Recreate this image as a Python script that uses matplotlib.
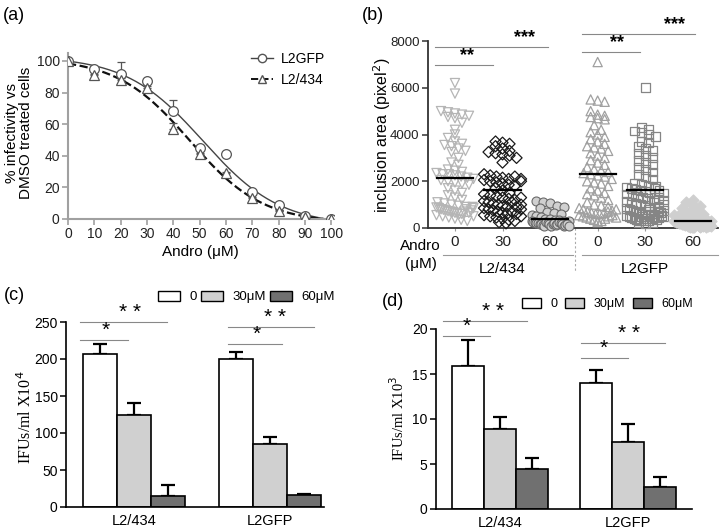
import numpy as np
import matplotlib
matplotlib.use("Agg")
import matplotlib.pyplot as plt
from matplotlib.patches import Patch
from matplotlib.lines import Line2D

plt.rcParams['font.family'] = ['Liberation Sans', 'DejaVu Sans']

W, H = 720, 532
def fx(px): return px / W
def fy(py): return 1 - py / H

# ---------------- data ----------------
# (a) dose response
andro_conc = [0, 10, 20, 30, 40, 50, 60, 70, 80, 90, 100]
l2gfp_pct = [100, 95, 92, 87, 68, 45, 41, 17, 9, 2, 0]
l2gfp_err = [0, 2, 7, 1.5, 7, 2, 0, 1, 1, 0.5, 0]
l2_434_pct = [100, 91, 88, 83, 57, 41, 29, 13, 5, 1, 0]
l2_434_err = [0, 1, 1, 1, 4, 1, 1, 1, 1, 0.5, 0]

# (b) inclusion areas
b_tick_labels = ['0', '30', '60', '0', '30', '60']
b_groups = ['L2/434', 'L2GFP']
l2_434_0 = [6200, 5750, 5000, 4950, 4900, 4850, 4800, 4750, 4700, 4500, 4200, 4000,
            3850, 3700, 3600, 3550, 3500, 3400, 3300, 3250, 3000, 2800, 2700, 2500,
            2450, 2400, 2350, 2300, 2300, 2250, 2200, 2150, 2100, 2050, 2000, 1950,
            1900, 1850, 1700, 1600, 1500, 1400, 1300, 1200, 1100, 1050, 1000, 950,
            900, 880, 850, 800, 780, 750, 720, 700, 680, 650, 620, 600, 550, 500,
            450, 400, 350, 300, 500, 600, 700, 800, 900, 650, 750, 850]
l2_434_30 = [3700, 3650, 3600, 3500, 3400, 3300, 3250, 3200, 3150, 3100, 3000, 2800,
             2300, 2250, 2200, 2150, 2100, 2050, 2000, 1950, 1900, 1850, 1800, 2200,
             2100, 2000, 1700, 1600, 1500, 1450, 1400, 1350, 1300, 1250, 1200, 1150,
             1100, 1050, 1000, 950, 900, 850, 800, 750, 700, 650, 600, 550, 500, 450,
             400, 350, 300, 250, 200, 1300, 1100, 900, 700, 500, 600, 800, 1000]
l2_434_60 = [1150, 1100, 1050, 950, 900, 850, 700, 650, 600, 550, 500, 450, 400, 380,
             350, 330, 300, 280, 260, 250, 230, 200, 180, 150, 120, 100, 300, 250, 200,
             150, 100, 150, 200, 120, 180, 250, 220, 160, 100, 130, 170, 90]
l2gfp_0 = [7100, 5500, 5450, 5400, 5000, 4850, 4800, 4750, 4700, 4650, 4400, 4200,
           4100, 4000, 3900, 3800, 3700, 3600, 3500, 3450, 3400, 3300, 3200, 3100,
           3000, 2900, 2800, 2700, 2600, 2500, 2450, 2400, 2350, 2300, 2250, 2200,
           2100, 2000, 1950, 1900, 1800, 1700, 1600, 1500, 1450, 1400, 1300, 1200,
           1100, 1000, 950, 900, 850, 800, 700, 650, 600, 550, 500, 450, 400, 350,
           300, 250, 300, 400, 500, 550, 600, 650, 700, 750, 800, 450]
l2gfp_30 = [6000, 4300, 4200, 4150, 4100, 4000, 3900, 3700, 3650, 3500, 3400, 3300,
            3200, 3100, 3000, 2900, 2800, 2700, 2600, 2500, 2400, 2300, 2200, 2100,
            1900, 1850, 1800, 1750, 1700, 1650, 1600, 1550, 1500, 1450, 1400, 1350,
            1300, 1250, 1200, 1150, 1100, 1050, 1000, 950, 900, 850, 800, 750, 700,
            650, 600, 550, 500, 450, 400, 350, 300, 250, 200, 1800, 1700, 1600, 1500,
            1300, 1100, 900, 700, 500, 300, 1200, 1000, 800, 600, 400, 300, 400, 500,
            600, 700, 250, 350, 450, 550, 650, 750, 500]
l2gfp_60 = [1200, 1100, 1000, 950, 850, 700, 650, 600, 550, 500, 480, 450, 420, 400,
            380, 350, 330, 300, 280, 260, 250, 240, 220, 200, 180, 160, 150, 140, 120,
            100, 80, 60, 50, 40, 30, 300, 250, 200, 150, 100, 50, 80, 100, 120, 150,
            60, 90, 110, 140, 100]

# (c) IFUs x10^4
bar_groups = ['L2/434', 'L2GFP']
dose_labels = ['0', '30μM', '60μM']
c_vals = {'0': [207, 200], '30μM': [124, 85], '60μM': [15, 16]}
c_errs = {'0': [13, 10], '30μM': [17, 10], '60μM': [15, 2]}
# (d) IFUs x10^3
d_vals = {'0': [15.9, 14.0], '30μM': [8.9, 7.4], '60μM': [4.5, 2.5]}
d_errs = {'0': [2.9, 1.5], '30μM': [1.3, 2.0], '60μM': [1.2, 1.1]}

fig = plt.figure(figsize=(7.2, 5.32), dpi=100)

def axes_px(left, top, right, bottom):
    return fig.add_axes([fx(left), fy(bottom), (right - left) / W, (bottom - top) / H])

# ---------------- (a) ----------------
axa = axes_px(68, 53, 334, 219)
gcol = '#a0a0a0'
x = np.array(andro_conc, float)

def fit_curve(xd, yd):
    best = None
    for x50 in np.linspace(30, 65, 141):
        for s in np.linspace(5, 25, 161):
            g = 1 / (1 + np.exp((xd - x50) / s))
            A = np.vstack([np.ones_like(g), g]).T
            coef, res, *_ = np.linalg.lstsq(A, yd, rcond=None)
            r = np.sum((A @ coef - yd) ** 2)
            if best is None or r < best[0]:
                best = (r, x50, s, coef)
    return best[1:]

xx = np.linspace(0, 100, 300)
for yd, ls, lw, col in [(l2gfp_pct, '-', 1.0, '#444444'), (l2_434_pct, '--', 1.6, '#111111')]:
    x50, s, coef = fit_curve(x, np.array(yd, float))
    g = 1 / (1 + np.exp((xx - x50) / s))
    axa.plot(xx, coef[0] + coef[1] * g, ls=ls, lw=lw, color=col, zorder=2)

axa.errorbar(x, l2gfp_pct, yerr=[np.zeros(len(x)), l2gfp_err], fmt='o', ms=7,
             mfc='white', mec='#555555', mew=0.9, ecolor='#555555', elinewidth=0.9,
             capsize=3, capthick=0.9, zorder=3)
axa.errorbar(x, l2_434_pct, yerr=[np.zeros(len(x)), l2_434_err], fmt='^', ms=7,
             mfc='white', mec='#555555', mew=0.9, ecolor='#555555', elinewidth=0.9,
             capsize=3, capthick=0.9, zorder=3)
axa.set_xlim(0, 101)
axa.set_ylim(0, 105)
axa.set_xticks(andro_conc)
axa.set_yticks([0, 20, 40, 60, 80, 100])
for sp in ['top', 'right']:
    axa.spines[sp].set_visible(False)
for sp in ['left', 'bottom']:
    axa.spines[sp].set_color(gcol)
    axa.spines[sp].set_linewidth(1.5)
axa.tick_params(colors=gcol, labelcolor='#222222', labelsize=10, length=4, width=1.2, pad=2)
fig.text(fx(200), fy(252), 'Andro (μM)', ha='center', va='center', fontsize=11)
fig.text(fx(19), fy(133), '% infectivity vs\nDMSO treated cells', ha='center',
         va='center', rotation=90, fontsize=11, linespacing=1.05)
leg_h = [Line2D([], [], color='#444444', lw=1.0, marker='o', mfc='white', mec='#555555', ms=6),
         Line2D([], [], color='#111111', lw=1.4, ls='--', marker='^', mfc='white', mec='#555555', ms=6)]
axa.legend(leg_h, ['L2GFP', 'L2/434'], loc='upper left', bbox_to_anchor=(fx(251), fy(52)),
           bbox_transform=fig.transFigure, frameon=False, fontsize=10, handlelength=1.6,
           handletextpad=0.55, labelspacing=0.5, borderpad=0, borderaxespad=0)
fig.text(fx(3), fy(16), '(a)', fontsize=13, va='center')

# ---------------- (b) ----------------
axb = axes_px(428, 41, 718, 228)
y_per_px = 8000 / 187
x_per_px = 1 / 47.6
b_series = [l2_434_0, l2_434_30, l2_434_60, l2gfp_0, l2gfp_30, l2gfp_60]
b_style = [dict(marker='v', facecolors='none', edgecolors='#b5b5b5', s=44, linewidths=0.9),
           dict(marker='D', facecolors='none', edgecolors='#1a1a1a', s=32, linewidths=0.9),
           dict(marker='o', facecolors='#d0d0d0', edgecolors='#6a6a6a', s=42, linewidths=0.8),
           dict(marker='^', facecolors='none', edgecolors='#a0a0a0', s=44, linewidths=0.9),
           dict(marker='s', facecolors='none', edgecolors='#858585', s=40, linewidths=0.9),
           dict(marker='D', facecolors='#cfcfcf', edgecolors='#cfcfcf', s=32, linewidths=0.8)]

def swarm_offsets(vals, bin_px=7.0, step_px=7.0, max_px=18.5):
    vals = np.asarray(vals, float)
    bins = np.floor(vals / (bin_px * y_per_px)).astype(int)
    offs = np.zeros(len(vals))
    for b in np.unique(bins):
        idx = np.where(bins == b)[0]
        n = len(idx)
        half = min(max_px, (n - 1) * step_px / 2)
        pos = np.linspace(-half, half, n) if n > 1 else np.array([0.0])
        offs[idx] = pos * x_per_px
    return offs

for i, (vals, st) in enumerate(zip(b_series, b_style)):
    offs = swarm_offsets(vals)
    axb.scatter(i + offs, vals, zorder=3, clip_on=False, **st)
    m = np.mean(vals)
    axb.plot([i - 0.38, i + 0.38], [m, m], color='black', lw=1.6, zorder=4)

axb.set_xlim(-0.567, 5.53)
axb.set_ylim(0, 8000)
axb.set_yticks([0, 2000, 4000, 6000, 8000])
axb.set_xticks(range(6))
axb.set_xticklabels(b_tick_labels)
for sp in ['top', 'right']:
    axb.spines[sp].set_visible(False)
for sp in ['left', 'bottom']:
    axb.spines[sp].set_color('#333333')
    axb.spines[sp].set_linewidth(1.3)
axb.tick_params(axis='y', labelsize=9.5, length=4, width=1.1, colors='#333333',
                labelcolor='#222222', pad=2)
axb.tick_params(axis='x', labelsize=11, length=2, width=0.8, colors='#999999',
                labelcolor='#222222', pad=3)
fig.text(fx(382), fy(135), 'inclusion area (pixel$^2$)', rotation=90, ha='center',
         va='center', fontsize=11.5)
tb = axb.get_xaxis_transform()
axb.text(-0.72, -0.098, 'Andro', transform=tb, ha='center', va='center', fontsize=11)
axb.text(-0.72, -0.192, '(μM)', transform=tb, ha='center', va='center', fontsize=11)
axb.plot([-0.25, 2.48], [-0.144, -0.144], transform=tb, color='#999999', lw=0.8, clip_on=False)
axb.plot([2.67, 5.53], [-0.144, -0.144], transform=tb, color='#999999', lw=0.8, clip_on=False)
axb.plot([2.52, 2.52], [0, -0.23], transform=tb, color='#aaaaaa', lw=0.8, ls=(0, (2, 2)), clip_on=False)
axb.text(1.0, -0.22, b_groups[0], transform=tb, ha='center', va='center', fontsize=11)
axb.text(4.0, -0.22, b_groups[1], transform=tb, ha='center', va='center', fontsize=11)
for (x0, x1, yl, xs, txt) in [(-0.42, 0.80, 6973, 0.25, '**'), (-0.42, 1.95, 7743, 1.47, '***'),
                              (2.67, 5.04, 8299, 4.62, '***'), (2.67, 3.89, 7529, 3.40, '**')]:
    axb.plot([x0, x1], [yl, yl], color='#888888', lw=0.8, clip_on=False)
    axb.text(xs, yl + 60, txt, ha='center', va='bottom', fontsize=13, fontweight='bold', clip_on=False)
fig.text(fx(362), fy(16), '(b)', fontsize=13, va='center')

# ---------------- (c) & (d) ----------------
bar_colors = {'0': 'white', '30μM': '#d0d0d0', '60μM': '#707070'}

def bar_panel(ax, vals, errs, ylim, xmax, yticks, sig, ylabel, ylabel_px, ysize):
    centers = np.array([1.0, 5.0])
    for k, d in enumerate(dose_labels):
        xs = centers + (k - 1)
        ax.bar(xs, vals[d], width=1.0, color=bar_colors[d], edgecolor='black', lw=1.2, zorder=2)
        ax.errorbar(xs, vals[d], yerr=[np.zeros(2), errs[d]], fmt='none', ecolor='black',
                    elinewidth=1.6, capsize=5, capthick=1.6, zorder=1)
    ax.set_xlim(-1, xmax)
    ax.set_ylim(*ylim)
    ax.set_yticks(yticks)
    ax.set_xticks(centers)
    ax.set_xticklabels(bar_groups)
    for sp in ['top', 'right']:
        ax.spines[sp].set_visible(False)
    for sp in ['left', 'bottom']:
        ax.spines[sp].set_linewidth(1.2)
    ax.tick_params(axis='y', labelsize=10, length=4, width=1.1, pad=2)
    ax.tick_params(axis='x', labelsize=10.5, length=0, pad=5)
    for (x0, x1, yl, xs, txt) in sig:
        ax.plot([x0, x1], [yl, yl], color='#888888', lw=0.8, clip_on=False)
        ax.text(xs, yl, txt, ha='center', va='bottom', fontsize=15, clip_on=False)
    fig.text(fx(ylabel_px[0]), fy(ylabel_px[1]), ylabel, rotation=90, ha='center', va='center',
             fontsize=ysize, family=['Liberation Serif', 'DejaVu Serif'])

axc = axes_px(66, 322, 324, 507)
bar_panel(axc, c_vals, c_errs, (0, 250), 6.6, [0, 50, 100, 150, 200, 250],
          [(-0.59, 1.97, 250, 0.88, '* *'), (-0.59, 0.82, 225.7, 0.18, '*'),
           (3.76, 6.32, 243, 5.15, '* *'), (3.76, 5.35, 220, 4.62, '*')],
          'IFUs/ml X10$^4$', (26, 417), 11.5)
handles = [Patch(facecolor=bar_colors[d], edgecolor='black', lw=1.0) for d in dose_labels]
axc.legend(handles, dose_labels, loc='center left', bbox_to_anchor=(fx(158), fy(297)),
           bbox_transform=fig.transFigure, ncol=3, frameon=False, fontsize=9.5,
           handlelength=1.65, handleheight=0.85, handletextpad=0.75, columnspacing=0.3,
           borderpad=0, borderaxespad=0)
fig.text(fx(4), fy(296), '(c)', fontsize=13, va='center')

axd = axes_px(436, 329, 692, 509)
bar_panel(axd, d_vals, d_errs, (0, 20), 7.0, [0, 5, 10, 15, 20],
          [(-0.78, 1.84, 20.9, 0.78, '* *'), (-0.78, 0.69, 19.2, -0.03, '*'),
           (3.53, 6.16, 18.4, 5.03, '* *'), (3.53, 5.0, 16.8, 4.25, '*')],
          'IFUs/ml X10$^3$', (398, 418), 10.5)
axd.legend(handles, dose_labels, loc='center left', bbox_to_anchor=(fx(522), fy(304)),
           bbox_transform=fig.transFigure, ncol=3, frameon=False, fontsize=9,
           handlelength=1.5, handleheight=0.85, handletextpad=0.8, columnspacing=0.6,
           borderpad=0, borderaxespad=0)
fig.text(fx(382), fy(302), '(d)', fontsize=13, va='center')

fig.savefig('out.png', dpi=100)
